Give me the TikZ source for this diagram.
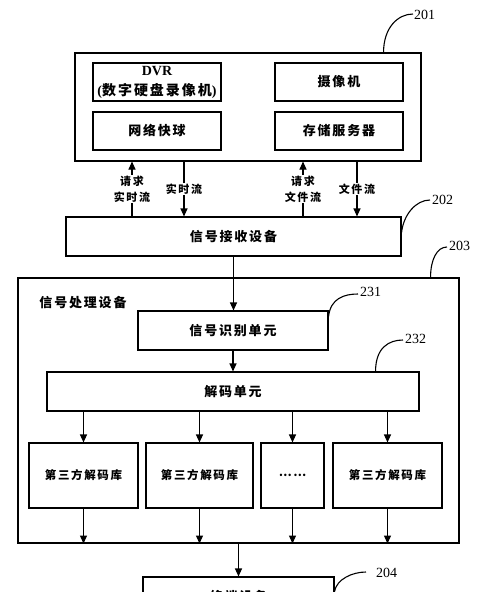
\documentclass[tikz,border=0pt]{standalone}
\usepackage{fontspec}
\setmainfont{Liberation Serif}
\newfontfamily\cjk[LetterSpace=14]{Noto Sans CJK SC}
\usetikzlibrary{calc,arrows.meta}
\begin{document}
\begin{tikzpicture}[x=1pt,y=-1pt,
  box/.style={draw, line width=1.1pt, inner sep=0pt, align=center,
    font=\fontsize{13}{16}\selectfont\cjk\bfseries},
  lib/.style={box, minimum height=65pt, font=\fontsize{11.5}{14}\selectfont\cjk\bfseries},
  flow/.style={line width=1.1pt, -{Triangle[length=8pt,width=7pt]}},
  flowlbl/.style={fill=white, inner sep=1pt, align=center,
    font=\fontsize{11}{16}\selectfont\cjk\bfseries},
  lead/.style={line width=1.1pt},
  num/.style={anchor=west, inner sep=0pt, font=\fontsize{14}{16}\selectfont}]
\clip (0,0) rectangle (500,592);
\fill[white] (0,0) rectangle (500,592);
% 201
\node[box, minimum width=346pt, minimum height=108pt] (b201) at (248,107) {};
\node[box, minimum width=128pt, minimum height=38pt, font=\fontsize{14}{20}\selectfont\cjk\bfseries] (dvr) at (157,82)
  {{\rmfamily\bfseries DVR}\\{\rmfamily\bfseries(}数字硬盘录像机{\rmfamily\bfseries)}};
\node[box, minimum width=128pt, minimum height=38pt] (cam) at (339,82) {摄像机};
\node[box, minimum width=128pt, minimum height=38pt] (dome) at (157,131) {网络快球};
\node[box, minimum width=128pt, minimum height=38pt] (stor) at (339,131) {存储服务器};
% 202
\node[box, minimum width=335pt, minimum height=39pt] (b202) at (233.5,236.5) {信号接收设备};
% 203
\node[box, minimum width=441pt, minimum height=265pt] (b203) at (238.5,410.5) {};
\node[inner sep=0pt, font=\fontsize{13}{16}\selectfont\cjk\bfseries] (t203) at (83,303) {信号处理设备};
\node[box, minimum width=190pt, minimum height=39pt] (b231) at (233,330.5) {信号识别单元};
\node[box, minimum width=372pt, minimum height=39pt] (b232) at (233,391.5) {解码单元};
\node[lib, minimum width=109pt] (l1) at (83.5,475.5) {第三方解码库};
\node[lib, minimum width=107pt] (l2) at (199.5,475.5) {第三方解码库};
\node[lib, minimum width=63pt] (l3) at (292.5,475.5) {……};
\node[lib, minimum width=109pt] (l4) at (387.5,475.5) {第三方解码库};
% 204
\node[box, minimum width=191pt, minimum height=40pt] (b204) at (238.5,597) {终端设备};
% flows between 201 and 202
\coordinate (xa) at (132,0);
\coordinate (xb) at (184,0);
\coordinate (xc) at (303,0);
\coordinate (xd) at (357,0);
\draw[flow] (b202.north -| xa) -- node[flowlbl] {请求\\实时流} (b201.south -| xa);
\draw[flow] (b201.south -| xb) -- node[flowlbl] {实时流} (b202.north -| xb);
\draw[flow] (b202.north -| xc) -- node[flowlbl] {请求\\文件流} (b201.south -| xc);
\draw[flow] (b201.south -| xd) -- node[flowlbl] {文件流} (b202.north -| xd);
% main flow
\draw[flow] (b202.south) -- (b202.south |- b231.north);
\draw[flow] (b231.south) -- (b231.south |- b232.north);
\draw[flow] (b232.south -| l1) -- (l1.north);
\draw[flow] (b232.south -| l2) -- (l2.north);
\draw[flow] (b232.south -| l3) -- (l3.north);
\draw[flow] (b232.south -| l4) -- (l4.north);
\draw[flow] (l1.south) -- (l1.south |- b203.south);
\draw[flow] (l2.south) -- (l2.south |- b203.south);
\draw[flow] (l3.south) -- (l3.south |- b203.south);
\draw[flow] (l4.south) -- (l4.south |- b203.south);
\draw[flow] (b204.north |- b203.south) -- (b204.north);
% reference numerals
\node[num] (n201) at (414,15) {201};
\node[num] (n202) at (432,200) {202};
\node[num] (n203) at (449,246) {203};
\node[num] (n231) at (360,292) {231};
\node[num] (n232) at (405,339) {232};
\node[num] (n204) at (376,573) {204};
\draw[lead] ($(b201.north east)+(-38,0)$) .. controls +(0,-25) and +(-15,0) .. ($(n201.west)+(-1,-1)$);
\draw[lead] ($(b202.east)+(0,-4)$) .. controls +(2,-18) and +(-14,0) .. ($(n202.west)+(-2,0)$);
\draw[lead] ($(b203.north east)+(-29,0)$) .. controls +(0,-18) and +(-10,0) .. ($(n203.west)+(-2,1)$);
\draw[lead] ($(b231.east)+(0,-14)$) .. controls +(2,-18) and +(-14,0) .. ($(n231.west)+(-2,2)$);
\draw[lead] ($(b232.north east)+(-44,0)$) .. controls +(0,-24) and +(-14,0) .. ($(n232.west)+(-2,1)$);
\draw[lead] ($(b204.north east)+(0,15)$) .. controls +(2,-12) and +(-14,0) .. ($(n204.west)+(-10,-1)$);
\end{tikzpicture}
\end{document}
